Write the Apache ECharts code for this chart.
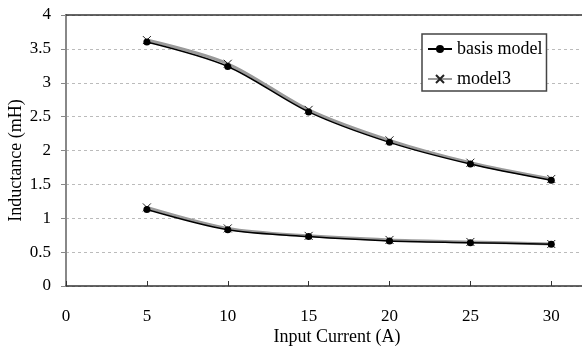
<!DOCTYPE html>
<html>
<head>
<meta charset="utf-8">
<script src="https://cdn.jsdelivr.net/npm/echarts@6/dist/echarts.min.js"></script>
<style>
  html, body { margin: 0; padding: 0; background: #fff; }
  #main { width: 582px; height: 352px; }
</style>
</head>
<body>
<div id="main"></div>
<script>
// input current (A)
var current = [5, 10, 15, 20, 25, 30];
// inductance (mH), two curves per model
var basisUpper = [3.60, 3.24, 2.57, 2.12, 1.80, 1.56];
var basisLower = [1.13, 0.83, 0.73, 0.665, 0.64, 0.615];
var model3Upper = [3.63, 3.28, 2.60, 2.15, 1.82, 1.58];
var model3Lower = [1.16, 0.85, 0.74, 0.68, 0.65, 0.62];
var xTicks = [0, 5, 10, 15, 20, 25, 30];

function pairs(ys) {
    return current.map(function (x, i) { return [x, ys[i]]; });
}

var font = "'Liberation Serif', 'Times New Roman', serif";
var crossPath = 'path://M0,0L10,10M10,0L0,10';

var myChart = echarts.init(document.getElementById('main'));

function model3Series(data) {
    return {
        name: 'model3',
        type: 'line',
        smooth: 0.3,
        data: pairs(data),
        lineStyle: { color: '#9a9a9a', width: 3 },
        symbol: crossPath,
        symbolSize: 8,
        itemStyle: { color: 'rgba(0,0,0,0)', borderColor: '#222', borderWidth: 1 },
        z: 2
    };
}
function basisSeries(data) {
    return {
        name: 'basis model',
        type: 'line',
        smooth: 0.3,
        data: pairs(data),
        lineStyle: { color: '#000', width: 1.5 },
        symbol: 'circle',
        symbolSize: 7,
        itemStyle: { color: '#000' },
        z: 3
    };
}

myChart.setOption({
    animation: false,
    textStyle: { fontFamily: font },
    grid: { left: 66, top: 15, right: 0, bottom: 66, containLabel: false, outerBoundsMode: 'none' },
    legend: {
        orient: 'vertical',
        left: 422,
        top: 34,
        width: 127,
        padding: [6, 4, 3, 5],
        itemGap: 12,
        itemWidth: 24,
        itemHeight: 10,
        backgroundColor: '#fff',
        borderColor: '#444',
        borderWidth: 1.5,
        textStyle: { fontFamily: font, fontSize: 18, color: '#000' },
        data: ['basis model', 'model3']
    },
    xAxis: [{
        type: 'value',
        min: 0,
        max: 31.9,
        interval: 5,
        name: 'Input Current (A)',
        nameLocation: 'middle',
        nameGap: 42,
        nameMoveOverlap: false,
        nameTextStyle: { fontFamily: font, fontSize: 18, color: '#000', padding: [0, 0, 0, 26] },
        axisLine: { lineStyle: { color: '#333', width: 1.5 } },
        axisTick: { inside: true, length: 5, lineStyle: { color: '#333' } },
        axisLabel: {
            margin: 22, fontSize: 17, color: '#000', fontFamily: font,
            formatter: function (v) { return xTicks.indexOf(v) >= 0 ? String(v) : ''; }
        },
        splitLine: { show: false }
    }, {
        type: 'value',
        position: 'top',
        min: 0,
        max: 31.9,
        axisLine: { show: true, lineStyle: { color: '#333', width: 1.5 } },
        axisTick: { show: false },
        axisLabel: { show: false },
        splitLine: { show: false }
    }],
    yAxis: {
        type: 'value',
        min: 0,
        max: 4,
        interval: 0.5,
        name: 'Inductance (mH)',
        nameLocation: 'middle',
        nameGap: 41,
        nameMoveOverlap: false,
        nameTextStyle: { fontFamily: font, fontSize: 18, color: '#000', padding: [0, 20, 0, 0] },
        axisLine: { show: true, lineStyle: { color: '#888', width: 2 } },
        axisTick: { show: true, length: 5, lineStyle: { color: '#888' } },
        axisLabel: { margin: 15, fontSize: 17, color: '#000', fontFamily: font },
        splitLine: { lineStyle: { color: '#bbb', type: [3, 3], width: 1 } }
    },
    series: [
        model3Series(model3Upper),
        model3Series(model3Lower),
        basisSeries(basisUpper),
        basisSeries(basisLower)
    ]
});
</script>
</body>
</html>
